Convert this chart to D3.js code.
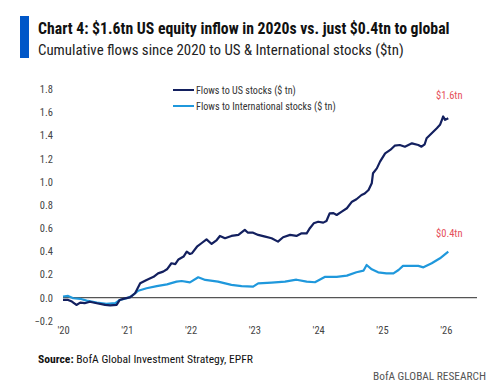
<!DOCTYPE html>
<html><head><meta charset="utf-8">
<script src="https://cdn.jsdelivr.net/npm/d3@7"></script>
<style>
html,body{margin:0;padding:0;background:#fff;}
svg text{font-family:"Liberation Sans Narrow","Arial Narrow","Roboto Condensed","Liberation Sans",sans-serif;}
</style></head>
<body><svg id="c" width="500" height="383"></svg>
<script>
// ---- data (decimal year, $tn) ----
const usYears = [2020.00,2020.08,2020.14,2020.21,2020.27,2020.34,2020.42,2020.53,2020.66,2020.74,2020.84,2020.89,2020.97,2021.05,2021.13,2021.21,2021.31,2021.42,2021.49,2021.57,2021.63,2021.70,2021.76,2021.81,2021.89,2021.94,2021.99,2022.02,2022.10,2022.17,2022.25,2022.33,2022.41,2022.46,2022.54,2022.64,2022.75,2022.85,2022.90,2022.98,2023.06,2023.17,2023.27,2023.37,2023.45,2023.56,2023.66,2023.74,2023.82,2023.87,2023.93,2024.00,2024.08,2024.13,2024.18,2024.24,2024.29,2024.37,2024.45,2024.53,2024.60,2024.68,2024.73,2024.79,2024.84,2024.86,2024.92,2024.97,2025.05,2025.13,2025.20,2025.28,2025.36,2025.47,2025.57,2025.62,2025.67,2025.70,2025.78,2025.86,2025.91,2025.94,2025.96,2025.99,2026.04];
const usValues = [-0.02,-0.02,-0.034,-0.063,-0.043,-0.048,-0.035,-0.048,-0.063,-0.066,-0.063,-0.02,-0.006,0.003,0.038,0.124,0.153,0.18,0.21,0.225,0.245,0.297,0.29,0.33,0.355,0.397,0.377,0.383,0.44,0.47,0.504,0.464,0.498,0.533,0.513,0.533,0.542,0.585,0.561,0.561,0.542,0.527,0.513,0.484,0.522,0.542,0.533,0.556,0.556,0.60,0.642,0.656,0.648,0.662,0.728,0.73,0.714,0.743,0.772,0.829,0.85,0.887,0.90,0.93,0.988,1.075,1.117,1.175,1.247,1.276,1.313,1.319,1.304,1.333,1.319,1.304,1.325,1.377,1.42,1.464,1.493,1.536,1.565,1.536,1.55];
const intlYears = [2020.00,2020.08,2020.16,2020.27,2020.37,2020.53,2020.68,2020.82,2020.89,2021.00,2021.08,2021.18,2021.31,2021.47,2021.63,2021.78,2021.86,2021.99,2022.12,2022.23,2022.43,2022.64,2022.80,2022.98,2023.06,2023.27,2023.48,2023.66,2023.82,2023.95,2024.11,2024.29,2024.45,2024.60,2024.71,2024.76,2024.84,2024.94,2025.07,2025.18,2025.26,2025.33,2025.44,2025.57,2025.65,2025.78,2025.91,2026.04];
const intlValues = [0.01,0.015,-0.005,-0.01,-0.026,-0.043,-0.054,-0.048,-0.02,-0.005,0.015,0.06,0.081,0.10,0.115,0.138,0.144,0.132,0.176,0.153,0.138,0.11,0.10,0.095,0.124,0.13,0.138,0.155,0.138,0.133,0.18,0.18,0.19,0.219,0.233,0.282,0.245,0.219,0.21,0.21,0.239,0.274,0.274,0.274,0.262,0.297,0.34,0.397];
const xTickValues = [2020,2021,2022,2023,2024,2025,2026];
const xTickLabels = ["'20","'21","'22","'23","'24","'25","'26"];
const yTickValues = [-0.2,0,0.2,0.4,0.6,0.8,1.0,1.2,1.4,1.6,1.8];
const seriesNames = ["Flows to US stocks ($ tn)","Flows to International stocks ($ tn)"];
const endLabels = ["$1.6tn","$0.4tn"];

const navy = "#13205f", light = "#1f98dc", red = "#e5505a";
const svg = d3.select("#c");

function fitText(sel, target){
  const w = sel.node().getComputedTextLength();
  const fs = parseFloat(sel.attr("font-size"));
  sel.attr("font-size", fs*target/w);
}

// header
svg.append("rect").attr("x",20).attr("y",16).attr("width",9).attr("height",42).attr("fill","#0057c8");
const t1 = svg.append("text").attr("x",38).attr("y",33.5).attr("font-size",15).attr("font-weight","bold").attr("fill","#111")
  .text("Chart 4: $1.6tn US equity inflow in 2020s vs. just $0.4tn to global");
fitText(t1, 412);
const t2 = svg.append("text").attr("x",38).attr("y",55).attr("font-size",14).attr("fill","#222")
  .text("Cumulative flows since 2020 to US & International stocks ($tn)");
fitText(t2, 366);

// scales
const x = d3.scaleLinear().domain([2020, 2026.49]).range([63, 477]);
const y = d3.scaleLinear().domain([-0.2, 1.8]).range([320.8, 89.3]);

// y axis labels
const yAxis = d3.axisLeft(y).tickValues(yTickValues).tickFormat(d3.format(".1f")).tickSize(0).tickPadding(0);
const gy = svg.append("g").attr("transform","translate(53,0)").call(yAxis);
gy.select(".domain").remove();
gy.selectAll("text").attr("font-size",10.5).attr("fill","#444").attr("font-family",null);

// x axis labels
const xAxis = d3.axisBottom(x).tickValues(xTickValues).tickFormat((d,i)=>xTickLabels[i]).tickSize(0).tickPadding(0);
const gx = svg.append("g").attr("transform","translate(0,327)").call(xAxis);
gx.select(".domain").remove();
gx.selectAll("text").attr("font-size",10.5).attr("fill","#444").attr("font-family",null);

// zero line
svg.append("line").attr("x1",x(2020)).attr("x2",x(2026.49)).attr("y1",y(0)).attr("y2",y(0)).attr("stroke","#555").attr("stroke-width",1.2);

const line = d3.line().x(d=>x(d[0])).y(d=>y(d[1]));
const usData = usYears.map((v,i)=>[v,usValues[i]]);
const intlData = intlYears.map((v,i)=>[v,intlValues[i]]);
svg.append("path").datum(intlData).attr("d",line).attr("fill","none").attr("stroke",light).attr("stroke-width",2.2).attr("stroke-linejoin","round");
svg.append("path").datum(usData).attr("d",line).attr("fill","none").attr("stroke",navy).attr("stroke-width",2.2).attr("stroke-linejoin","round");

// end labels
svg.append("text").attr("x",x(usYears[usYears.length-1])+1).attr("y",y(1.72)).attr("text-anchor","middle").attr("font-size",10.5).attr("fill",red).text(endLabels[0]);
svg.append("text").attr("x",x(intlYears[intlYears.length-1])+1).attr("y",y(0.52)).attr("text-anchor","middle").attr("font-size",10.5).attr("fill",red).text(endLabels[1]);

// legend
[[navy,90],[light,106]].forEach((c,i)=>{
  svg.append("line").attr("x1",173).attr("x2",194).attr("y1",c[1]).attr("y2",c[1]).attr("stroke",c[0]).attr("stroke-width",2);
  const lt = svg.append("text").attr("x",196).attr("y",c[1]+3.7).attr("font-size",10.5).attr("fill","#333").text(seriesNames[i]);
  fitText(lt, i===0?100:140);
});

// source
const src = svg.append("text").attr("x",38).attr("y",363).attr("font-size",12).attr("fill","#111");
src.append("tspan").attr("font-weight","bold").text("Source:");
src.append("tspan").text(" BofA Global Investment Strategy, EPFR");
fitText(src, 215);
const ft = svg.append("text").attr("x",486).attr("y",380).attr("text-anchor","end").attr("font-size",12).attr("fill","#555").text("BofA GLOBAL RESEARCH");
fitText(ft, 113);
</script></body></html>
